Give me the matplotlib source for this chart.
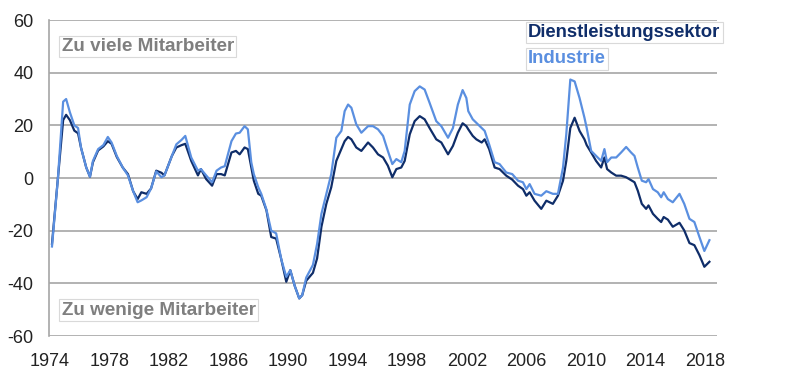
import matplotlib
matplotlib.use("Agg")
from matplotlib import pyplot as plt

plt.rcParams["font.family"] = ["Liberation Sans", "DejaVu Sans"]
plt.rcParams["axes.unicode_minus"] = False

# sample dates (decimal years)
years = [
    1974.15, 1974.55, 1974.9, 1975.1, 1975.35, 1975.65, 1975.9, 1976.1, 1976.45, 1976.7,
    1976.9, 1977.25, 1977.6, 1977.9, 1978.15, 1978.5, 1978.9, 1979.25, 1979.6, 1979.9,
    1980.15, 1980.5, 1980.8, 1981.15, 1981.5, 1981.7, 1982.2, 1982.5, 1982.85, 1983.1,
    1983.5, 1983.95, 1984.15, 1984.5, 1984.9, 1985.2, 1985.5, 1985.75, 1986.2, 1986.5,
    1986.75, 1987.08, 1987.3, 1987.53, 1987.7, 1988.0, 1988.2, 1988.55, 1988.87, 1989.2,
    1989.55, 1989.88, 1990.15, 1990.45, 1990.75, 1990.95, 1991.22, 1991.67, 1991.95, 1992.24,
    1992.57, 1992.9, 1993.24, 1993.58, 1993.8, 1994.03, 1994.25, 1994.58, 1994.92, 1995.37,
    1995.7, 1996.04, 1996.38, 1996.7, 1997.0, 1997.27, 1997.6, 1997.83, 1998.17, 1998.5,
    1998.84, 1999.17, 1999.5, 1999.95, 2000.29, 2000.74, 2001.07, 2001.4, 2001.72, 2001.97,
    2002.1, 2002.4, 2002.64, 2003.0, 2003.2, 2003.5, 2003.87, 2004.2, 2004.65, 2005.05,
    2005.44, 2005.77, 2006.0, 2006.22, 2006.55, 2007.0, 2007.34, 2007.78, 2008.12, 2008.46,
    2008.68, 2008.95, 2009.24, 2009.57, 2009.9, 2010.05, 2010.35, 2010.68, 2011.02, 2011.24,
    2011.42, 2011.7, 2012.03, 2012.36, 2012.7, 2013.03, 2013.26, 2013.48, 2013.75, 2014.04,
    2014.2, 2014.5, 2014.82, 2015.05, 2015.22, 2015.5, 2015.83, 2016.28, 2016.6, 2016.95,
    2017.28, 2017.62, 2017.95, 2018.29,
]

dienstleistung = [
    -25, 0, 22, 24, 22, 18, 17, 11.5, 4, 0.5,
    6, 10.5, 12, 14, 13, 8, 4, 1.5, -5, -8,
    -5.4, -6, -4, 2.8, 2, 1, 8.4, 11.6, 12.5, 13,
    6.5, 1, 3.4, -0.4, -2.9, 1.5, 1.5, 1, 9.7, 10.3,
    9, 11.6, 11, 4, -1, -6, -6.7, -12.3, -22.4, -23,
    -31, -39.4, -35, -41, -45.7, -44.5, -39, -36, -30.5, -18.5,
    -9.8, -3.5, 6.5, 11, 14, 15.6, 14.7, 11.6, 10.3, 13.5,
    11.6, 9, 7.8, 4.7, 0.3, 3.4, 4, 6.5, 16.6, 21.6,
    23.5, 22.3, 19, 14.7, 13.5, 9, 12.2, 17.2, 20.8, 19.7,
    18.5, 16, 14.7, 13.5, 14.7, 11, 4, 3.4, 0.9, -0.6,
    -2.9, -4.2, -6.7, -5.4, -8.6, -11.7, -8.6, -9.8, -6.7, -1,
    6.5, 19, 22.9, 17.9, 14.7, 12.5, 9.7, 6.5, 4, 7.8,
    3.4, 2.1, 0.9, 0.9, 0.3, -0.8, -1.6, -4.8, -9.8, -11.7,
    -10.4, -13.6, -15.5, -16.7, -14.8, -15.8, -18.5, -17, -19.9, -24.7,
    -25.5, -29.3, -33.7, -31.8,
]

industrie = [
    -26, 0, 29, 30, 25, 20, 19, 11.5, 4, 0.5,
    6.5, 11, 12.5, 15.6, 13.5, 8.4, 4, 1, -5, -9.2,
    -8.5, -7.3, -4, 2.5, 0.3, 1, 8.4, 12.8, 14.5, 16,
    7.8, 2.8, 3.4, 1, -1.6, 2.8, 4, 4.5, 14, 16.9,
    17.2, 19.7, 18.5, 6, 1.5, -3.5, -6, -12, -20, -21,
    -31, -37.5, -35, -41, -45.7, -44.5, -37.8, -33, -25, -13.6,
    -6, 1.5, 15.3, 17.9, 25.4, 27.9, 26.7, 20.4, 17.2, 19.7,
    19.7, 18.5, 16, 10.3, 5.3, 7.2, 6, 10.3, 27.9, 33,
    34.8, 33.6, 28.6, 21.6, 19.7, 15.3, 19, 27.9, 33.4, 30.4,
    25.4, 22.3, 21, 19, 17.9, 12.8, 6, 5.3, 2.1, 1.5,
    -1, -1.6, -4.2, -2.3, -6, -6.7, -5, -6, -6, 4,
    16.6, 37.4, 36.7, 30.4, 22.9, 19, 10.3, 8.4, 6.5, 11,
    6, 7.8, 7.8, 9.7, 11.8, 9.7, 8.4, 4, -1, -1.6,
    -0.4, -4.2, -5.4, -7.3, -5.4, -8, -9.2, -6, -9.8, -15.5,
    -16.7, -22.4, -27.7, -23.6,
]

x_ticks = list(range(1974, 2019, 4))
y_ticks = list(range(-60, 61, 20))

dark_blue = "#0f2d69"
light_blue = "#5a8fe0"
grid_grey = "#a6a6a6"
text_grey = "#7f7f7f"

fig = plt.figure(figsize=(8.06, 3.78), dpi=100)
ax = fig.add_axes([0.0608, 0.111, 0.8288, 0.836])

ax.plot(years, dienstleistung, color=dark_blue, lw=1.6, zorder=3)
ax.plot(years, industrie, color=light_blue, lw=1.6, zorder=3)

ax.set_xlim(1973.95, 2018.8)
ax.set_ylim(-60, 60)
ax.set_xticks(x_ticks)
ax.set_yticks(y_ticks)
ax.tick_params(length=0, labelsize=13, colors="#222222")
ax.tick_params(axis="y", pad=11)
ax.tick_params(axis="x", pad=12)
ax.grid(axis="y", color=grid_grey, lw=1.2)
ax.set_axisbelow(True)
for side in ["top", "right", "bottom"]:
    ax.spines[side].set_visible(False)
ax.spines["left"].set_color(grid_grey)
ax.spines["left"].set_linewidth(1.2)

box = dict(boxstyle="square,pad=0.12", fc="white", ec="#d9d9d9", lw=0.8)
ax.text(0.019, 0.916, "Zu viele Mitarbeiter", transform=ax.transAxes, fontsize=13.6,
        fontweight="bold", color=text_grey, va="center", ha="left", bbox=box)
ax.text(0.019, 0.082, "Zu wenige Mitarbeiter", transform=ax.transAxes, fontsize=13.6,
        fontweight="bold", color=text_grey, va="center", ha="left", bbox=box)
ax.text(0.717, 0.960, "Dienstleistungssektor", transform=ax.transAxes, fontsize=13.3,
        fontweight="bold", color=dark_blue, va="center", ha="left", bbox=box)
ax.text(0.717, 0.877, "Industrie", transform=ax.transAxes, fontsize=13.3,
        fontweight="bold", color=light_blue, va="center", ha="left", bbox=box)

fig.savefig("out.png", dpi=100, facecolor="white")
